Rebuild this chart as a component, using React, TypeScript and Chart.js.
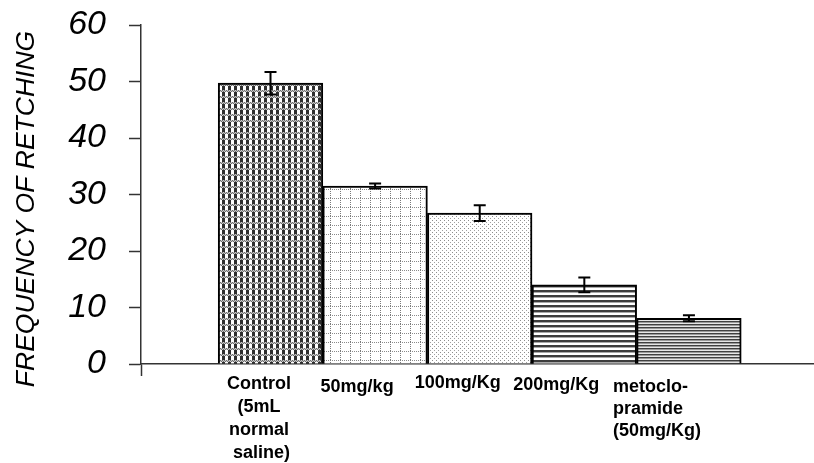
import React, { useEffect, useRef } from 'react';
import { Chart, registerables } from 'chart.js';

Chart.register(...registerables);

// ---- data ----
const categories: string[][] = [
  ['Control', '(5mL', 'normal', ' saline)'],
  ['50mg/kg'],
  ['100mg/Kg'],
  ['200mg/Kg'],
  ['metoclo-', 'pramide', '(50mg/Kg)'],
];
const retchingMeans: number[] = [49.7, 31.5, 26.7, 14.0, 8.1];
const retchingErrors: number[] = [2.0, 0.45, 1.4, 1.3, 0.55];
const yTickValues: number[] = [0, 10, 20, 30, 40, 50, 60];
const yTitle = 'FREQUENCY OF RETCHING';

// ---- styling / layout (not data) ----
const X_MIN = -1.238;
const X_MAX = 5.186;
const FONT = '"Liberation Sans", Arial, sans-serif';
const labelLayout = [
  { dx: -11.5, base: 389, lh: 23, align: 'center' as CanvasTextAlign },
  { dx: -18, base: 392, lh: 23, align: 'center' as CanvasTextAlign },
  { dx: -22, base: 388, lh: 23, align: 'center' as CanvasTextAlign },
  { dx: -28, base: 390, lh: 23, align: 'center' as CanvasTextAlign },
  { dx: -76, base: 392, lh: 22, align: 'left' as CanvasTextAlign },
];

function makePattern(w: number, h: number, paint: (x: number, y: number) => string | null): CanvasPattern | string {
  const c = document.createElement('canvas');
  c.width = w;
  c.height = h;
  const g = c.getContext('2d');
  if (!g) return '#888';
  g.fillStyle = '#ffffff';
  g.fillRect(0, 0, w, h);
  for (let y = 0; y < h; y++) {
    for (let x = 0; x < w; x++) {
      const col = paint(x, y);
      if (col) {
        g.fillStyle = col;
        g.fillRect(x, y, 1, 1);
      }
    }
  }
  const p = g.createPattern(c, 'repeat');
  return p || '#888';
}

function buildPatterns() {
  const checker = makePattern(6, 6, (x, y) => {
    if (y < 2) return (x + y) % 2 === 0 ? '#6f6f6f' : '#c8c8c8';
    return x < 3 ? '#2e2e2e' : null;
  });
  const grid = makePattern(10, 9, (x, y) => {
    if (x === 0 && y % 2 === 0) return '#7a7a7a';
    if (y === 0 && x % 2 === 0) return '#8a8a8a';
    return null;
  });
  const dots = makePattern(4, 4, (x, y) => {
    if (x === 0 && y === 0) return '#8c8c8c';
    if (x === 2 && y === 2) return '#a0a0a0';
    return null;
  });
  const stripes = makePattern(1, 5, (_x, y) => {
    if (y === 0 || y === 1) return '#3c3c3c';
    if (y === 2) return '#a8a8a8';
    return null;
  });
  const fineStripes = makePattern(1, 3, (_x, y) => {
    if (y === 0) return '#404040';
    if (y === 1) return '#9a9a9a';
    return '#e6e6e6';
  });
  return [checker, grid, dots, stripes, fineStripes];
}

const overlayPlugin = {
  id: 'overlay',
  afterDatasetsDraw(chart: any) {
    const ctx: CanvasRenderingContext2D = chart.ctx;
    const meta = chart.getDatasetMeta(0);
    const yScale = chart.scales.y;
    ctx.save();
    ctx.strokeStyle = '#000';
    ctx.lineWidth = 2;
    retchingMeans.forEach((m, i) => {
      const bar = meta.data[i];
      if (!bar) return;
      const x = bar.x;
      const yT = yScale.getPixelForValue(m + retchingErrors[i]);
      const yB = yScale.getPixelForValue(m - retchingErrors[i]);
      ctx.beginPath();
      ctx.moveTo(x, yT);
      ctx.lineTo(x, yB);
      ctx.moveTo(x - 6, yT);
      ctx.lineTo(x + 6, yT);
      ctx.moveTo(x - 6, yB);
      ctx.lineTo(x + 6, yB);
      ctx.stroke();
    });
    ctx.restore();
  },
  afterDraw(chart: any) {
    const ctx: CanvasRenderingContext2D = chart.ctx;
    const meta = chart.getDatasetMeta(0);
    ctx.save();
    ctx.fillStyle = '#000';
    ctx.font = `bold 18px ${FONT}`;
    ctx.textBaseline = 'alphabetic';
    categories.forEach((lines, i) => {
      const bar = meta.data[i];
      if (!bar) return;
      const L = labelLayout[i];
      ctx.textAlign = L.align;
      lines.forEach((t, k) => {
        ctx.fillText(t, bar.x + L.dx, L.base + k * L.lh);
      });
    });
    ctx.translate(27, 209);
    ctx.rotate(-Math.PI / 2);
    ctx.font = `italic 26.5px ${FONT}`;
    ctx.textAlign = 'center';
    ctx.textBaseline = 'middle';
    ctx.fillText(yTitle, 0, 0);
    ctx.restore();
  },
};

export default function App() {
  const ref = useRef<HTMLCanvasElement | null>(null);
  useEffect(() => {
    if (!ref.current) return;
    const patterns = buildPatterns();
    const chart = new Chart(ref.current, {
      type: 'bar',
      data: {
        datasets: [
          {
            data: retchingMeans.map((v, i) => ({ x: i, y: v })),
            backgroundColor: patterns as any,
            borderColor: '#000',
            borderWidth: 2,
            barPercentage: 1,
            categoryPercentage: 1,
          },
        ],
      },
      options: {
        responsive: false,
        animation: false,
        layout: { padding: { top: 25, right: 1, bottom: 0, left: 0 } },
        plugins: { legend: { display: false }, tooltip: { enabled: false } },
        scales: {
          x: {
            type: 'linear',
            offset: false,
            min: X_MIN,
            max: X_MAX,
            ticks: { display: false, stepSize: 1 },
            grid: {
              offset: false,
              drawOnChartArea: false,
              drawTicks: true,
              tickLength: 12,
              tickWidth: 1.5,
              tickColor: (c: any) => (c.index === 0 ? '#333' : 'rgba(0,0,0,0)'),
            },
            border: { display: true, color: '#333', width: 1.5 },
            afterFit: (s: any) => {
              s.height = 99;
              s.paddingLeft = 0;
              s.paddingRight = 0;
            },
          },
          y: {
            min: 0,
            max: 60,
            afterBuildTicks: (s: any) => {
              s.ticks = yTickValues.map((v) => ({ value: v }));
            },
            ticks: {
              color: '#000',
              padding: 23,
              font: { family: FONT, size: 34, style: 'italic' },
            },
            grid: {
              drawOnChartArea: false,
              drawTicks: true,
              tickLength: 12,
              tickWidth: 1.5,
              tickColor: '#333',
            },
            border: { display: true, color: '#333', width: 1.5 },
            afterFit: (s: any) => {
              s.width = 141;
              s.paddingTop = 0;
              s.paddingBottom = 0;
            },
          },
        },
      },
      plugins: [overlayPlugin],
    });
    return () => chart.destroy();
  }, []);
  return (
    <div style={{ position: 'absolute', left: 0, top: 0, width: 814, height: 463, background: '#fff' }}>
      <canvas ref={ref} width={814} height={463} style={{ display: 'block' }} />
    </div>
  );
}
